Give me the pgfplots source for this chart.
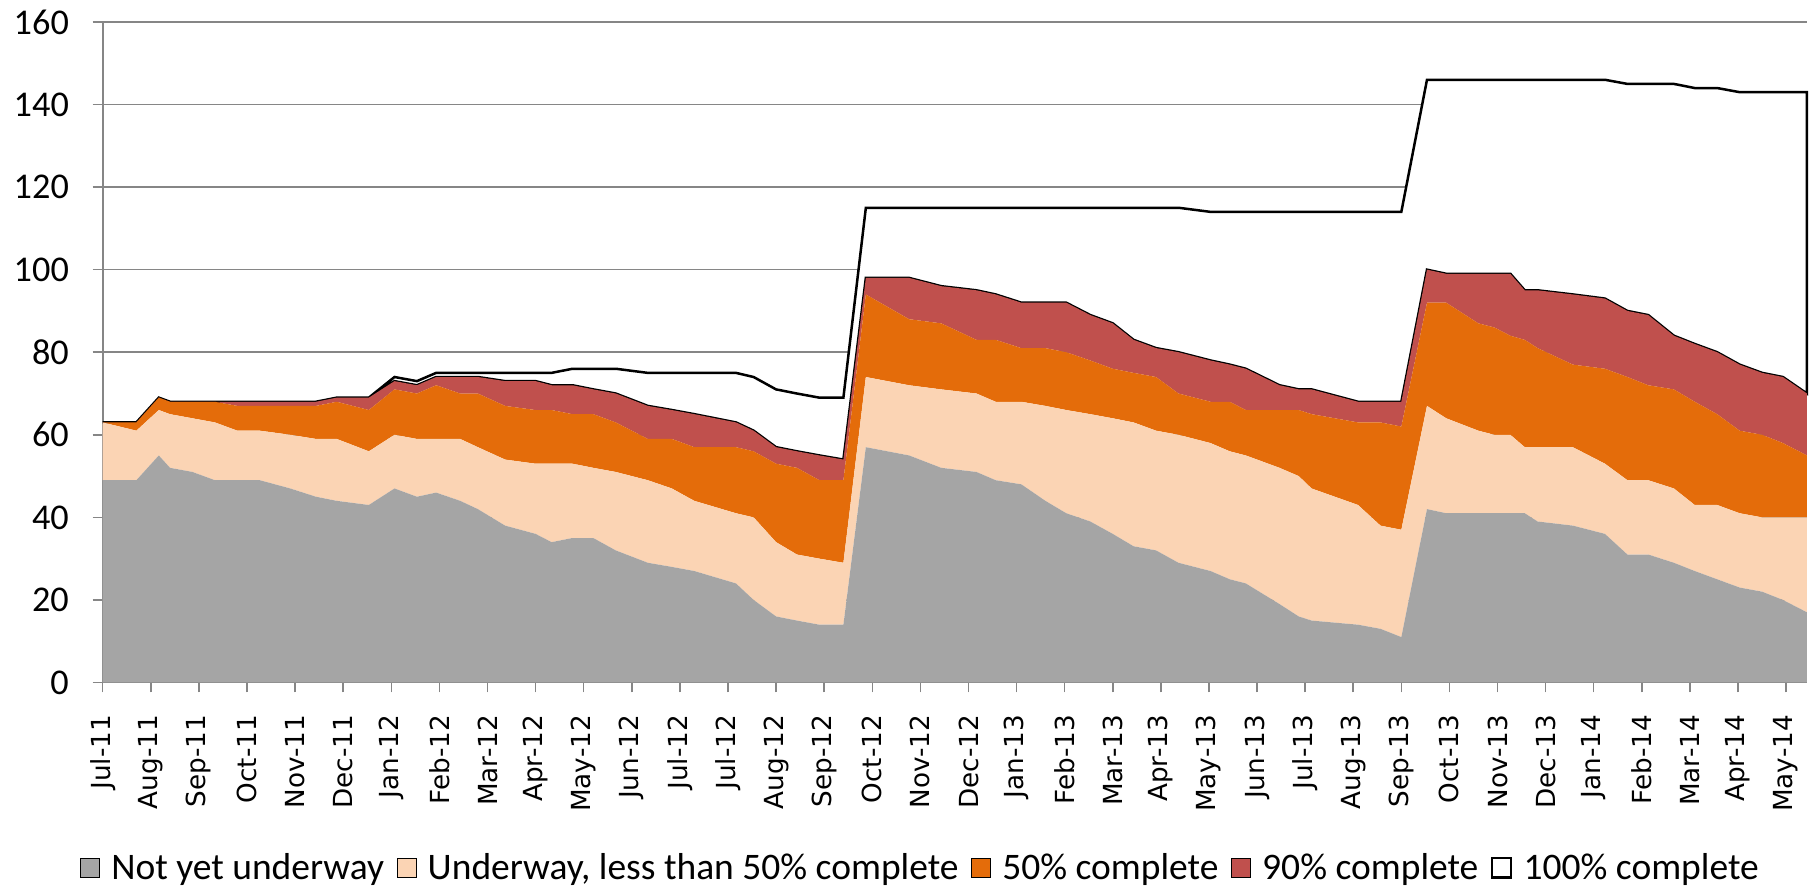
\documentclass[border=0pt]{standalone}
\usepackage{pgfplots}
\pgfplotsset{compat=1.18}
\usepackage{pgfplotstable}
\usepackage{fontspec}
\setmainfont{Carlito}
\newfontfamily\xfont{DejaVu Sans}
\definecolor{cgrey}{HTML}{A5A5A5}
\definecolor{cpeach}{HTML}{FBD4B4}
\definecolor{corange}{HTML}{E46C0A}
\definecolor{cred}{HTML}{C0504D}
\definecolor{cgrid}{HTML}{868686}

\pgfplotstableread{
x G P O R W
0 49 14 0 0 0
21 49 12 2 0 0
35 55 11 3 0 0
42 52 13 3 0 0
56 51 13 4 0 0
70 49 14 5 0 0
84 49 12 6 1 0
98 49 12 6 1 0
117 47 13 7 1 0
133 45 14 8 1 0
146 44 15 9 1 0
166 43 13 10 3 0
182 47 13 11 2 1
196 45 14 11 2 1
208 46 13 13 2 1
223 44 15 11 4 1
234 42 15 13 4 1
251 38 16 13 6 2
270 36 17 13 7 2
280 34 19 13 6 3
293 35 18 12 7 4
306 35 17 13 6 5
320 32 19 12 7 6
340 29 20 10 8 8
355 28 19 12 7 9
369 27 17 13 8 10
395 24 17 16 6 12
406 20 20 16 5 13
420 16 18 19 4 14
433 15 16 21 4 14
447 14 16 19 6 14
462 14 15 20 5 15
476 57 17 20 4 17
503 55 17 16 10 17
523 52 19 16 9 19
545 51 19 13 12 20
557 49 19 15 11 21
573 48 20 13 11 23
588 44 23 14 11 23
601 41 25 14 12 23
616 39 26 13 11 26
630 36 28 12 11 28
643 33 30 12 8 32
657 32 29 13 7 34
671 29 31 10 10 35
691 27 31 10 10 36
703 25 31 12 9 37
713 24 31 11 10 38
734 19 33 14 6 42
746 16 34 16 5 43
754 15 32 18 6 43
783 14 29 20 5 46
797 13 25 25 5 46
810 11 26 25 6 46
826 42 25 25 8 46
838 41 23 28 7 47
858 41 20 26 12 47
868 41 19 26 13 47
878 41 19 24 15 47
887 41 16 26 12 51
895 39 18 24 14 51
917 38 19 20 17 52
937 36 17 23 17 53
951 31 18 25 16 55
964 31 18 23 17 56
980 29 18 24 13 61
993 27 16 25 14 62
1007 25 18 22 15 64
1021 23 18 20 16 66
1035 22 18 20 15 68
1048 20 20 18 16 69
1063 17 23 15 15 73
}\data

\begin{document}
\begin{tikzpicture}
\begin{axis}[
  at={(0,0)}, anchor=south west,
  scale only axis, width=681.7pt, height=264.2pt,
  xmin=0, xmax=1063, ymin=0, ymax=160,
  clip=false,
  stack plots=y,
  axis lines*=left,
  axis line style={cgrid, line width=0.8pt},
  ytick={0,20,...,160},
  ymajorgrids, grid style={cgrid, line width=0.6pt},
  xtick={0,30,...,1050},
  xticklabels={Jul-11,Aug-11,Sep-11,Oct-11,Nov-11,Dec-11,Jan-12,Feb-12,Mar-12,Apr-12,May-12,Jun-12,Jul-12,Jul-12,Aug-12,Sep-12,Oct-12,Nov-12,Dec-12,Jan-13,Feb-13,Mar-13,Apr-13,May-13,Jun-13,Jul-13,Aug-13,Sep-13,Oct-13,Nov-13,Dec-13,Jan-14,Feb-14,Mar-14,Apr-14,May-14},
  x tick label style={rotate=90, anchor=east, font=\xfont\fontsize{10.5}{12}\selectfont},
  xticklabel shift=5.5pt,
  y tick label style={font=\fontsize{14.5}{16}\selectfont},
  yticklabel shift=6pt,
  tick align=outside, major tick length=4pt,
  tick style={cgrid, line width=0.6pt},
  /pgf/number format/assume math mode=true,
  legend style={at={(0.4807,-0.2808)}, anchor=center, draw=none, legend columns=-1,
    font=\fontsize{15}{17}\selectfont,
    /tikz/every odd column/.append style={column sep=2.5pt},
    /tikz/every even column/.append style={column sep=3pt}},
  legend image code/.code={\draw[#1] (0pt,-3.9pt) rectangle (7.6pt,3.9pt);},
]
\addplot[fill=cgrey, draw=none] table[x=x, y=G]{\data} \closedcycle;
\addlegendentry{Not yet underway}
\addplot[fill=cpeach, draw=none] table[x=x, y=P]{\data} \closedcycle;
\addlegendentry{Underway, less than 50\% complete}
\addplot[fill=corange, draw=none] table[x=x, y=O]{\data} \closedcycle;
\addlegendentry{50\% complete}
\addplot[fill=cred, draw=none] table[x=x, y=R]{\data} \closedcycle;
\addlegendentry{90\% complete}
\addplot[fill=white, draw=black, line width=1pt] table[x=x, y=W]{\data} \closedcycle;
\addlegendentry{100\% complete}
\end{axis}
\pgfresetboundingbox
\path[use as bounding box] (-41.08pt,-81.8pt) rectangle (686.92pt,273pt);
\end{tikzpicture}
\end{document}
